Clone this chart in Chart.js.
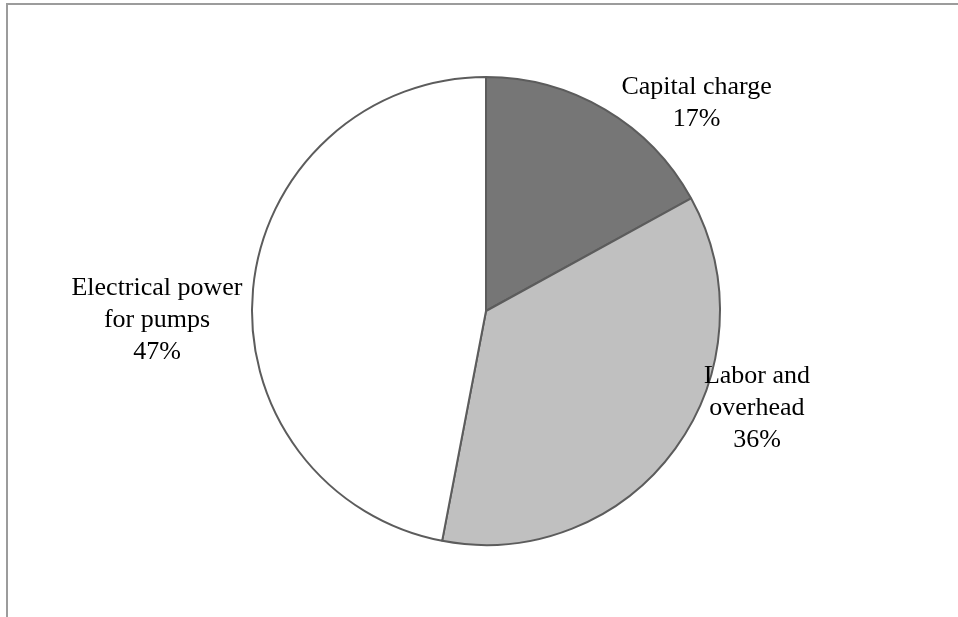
<!DOCTYPE html>
<html>
<head>
<meta charset="utf-8">
<script src="https://cdn.jsdelivr.net/npm/chart.js@4/dist/chart.umd.min.js"></script>
<style>
  html, body { margin: 0; padding: 0; background: #fff; }
  #wrap { position: relative; width: 958px; height: 617px; }
  #frame {
    position: absolute; left: 6px; top: 3px; right: 0; bottom: 0;
    border-top: 2px solid #9c9c9c; border-left: 2px solid #9c9c9c;
  }
  canvas { position: absolute; left: 0; top: 0; }
</style>
</head>
<body>
<div id="wrap">
  <div id="frame"></div>
  <canvas id="costPie" width="958" height="617"></canvas>
</div>
<script>
const categories = [['Capital charge'], ['Labor and', 'overhead'], ['Electrical power', 'for pumps']];
const shares = [17, 36, 47];
const sliceColors = ['#767676', '#c0c0c0', '#ffffff'];

// where each label sits, in multiples of the pie radius from its centre
const labelSpots = [[0.90, -0.89], [1.158, 0.415], [-1.406, 0.038]];

const outsideLabels = {
  id: 'outsideLabels',
  afterDatasetsDraw(chart) {
    const ctx = chart.ctx;
    const arcs = chart.getDatasetMeta(0).data;
    ctx.save();
    ctx.font = '26px "Liberation Serif", "Times New Roman", serif';
    ctx.fillStyle = '#000';
    ctx.textAlign = 'center';
    ctx.textBaseline = 'middle';
    arcs.forEach((arc, i) => {
      const { x, y, outerRadius } = arc.getProps(['x', 'y', 'outerRadius'], true);
      const lines = categories[i].concat(shares[i] + '%');
      const cx = x + outerRadius * labelSpots[i][0];
      const cy = y + outerRadius * labelSpots[i][1];
      const lh = 32;
      const top = cy - (lines.length - 1) * lh / 2;
      lines.forEach((t, j) => ctx.fillText(t, cx, top + j * lh));
    });
    ctx.restore();
  }
};

new Chart(document.getElementById('costPie').getContext('2d'), {
  type: 'pie',
  data: {
    labels: categories.map(c => c.join(' ')),
    datasets: [{
      data: shares,
      backgroundColor: sliceColors,
      borderColor: '#5c5c5c',
      borderWidth: 2,
      hoverOffset: 0,
      offset: 0
    }]
  },
  options: {
    responsive: false,
    animation: false,
    events: [],
    layout: { padding: { top: 76, bottom: 71, left: 100, right: 86 } },
    plugins: {
      legend: { display: false },
      tooltip: { enabled: false }
    }
  },
  plugins: [outsideLabels]
});
</script>
</body>
</html>
